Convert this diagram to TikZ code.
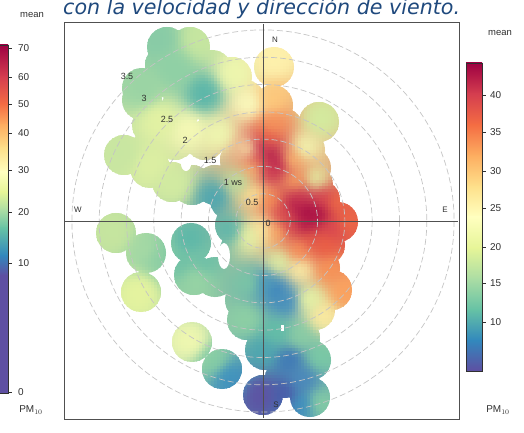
\documentclass[tikz,border=0pt]{standalone}
\usepackage{fontspec}
\setmainfont{Liberation Sans}
\newfontfamily\titlefont{DejaVu Sans}
\definecolor{sA}{HTML}{9E0142}
\definecolor{sB}{HTML}{D53E4F}
\definecolor{sC}{HTML}{F46D43}
\definecolor{sD}{HTML}{FDAE61}
\definecolor{sE}{HTML}{FEE08B}
\definecolor{sF}{HTML}{FFFFBF}
\definecolor{sG}{HTML}{E6F598}
\definecolor{sH}{HTML}{ABDDA4}
\definecolor{sI}{HTML}{66C2A5}
\definecolor{sJ}{HTML}{3288BD}
\definecolor{sK}{HTML}{5E4FA2}
\definecolor{titleblue}{HTML}{1F497D}
\definecolor{gridc}{HTML}{C4C4C4}
\definecolor{axisc}{HTML}{505050}
\definecolor{labc}{HTML}{303030}
\tikzset{
  gridring/.style={gridc, line width=0.7pt, dash pattern=on 6pt off 3pt},
  axisline/.style={axisc, line width=0.9pt},
  framebox/.style={draw=axisc, line width=1pt},
  barbox/.style={draw=labc, line width=0.5pt},
  ticklab/.style={font=\fontsize{10}{10}\selectfont, text=labc, anchor=west, inner sep=0},
  ringlab/.style={font=\fontsize{9}{9}\selectfont, text=labc, inner sep=0},
  compass/.style={font=\fontsize{8}{8}\selectfont, text=labc, inner sep=0},
  holec/.style={fill=white, draw=none}
}
% ---- raster of the smoothed field (inverse distance weighting) ----
\newcount\qx \newcount\qy \newcount\qd \newcount\qw
\newcount\qW \newcount\qR \newcount\qG \newcount\qB
\def\qacc#1#2#3#4#5{%
  \qd=\numexpr((\qx-#1)*(\qx-#1)+(\qy-#2)*(\qy-#2))/16+9\relax
  \qw=\numexpr 10000000/(\qd*\qd)\relax
  \advance\qW\qw
  \advance\qR\numexpr\qw*#3\relax
  \advance\qG\numexpr\qw*#4\relax
  \advance\qB\numexpr\qw*#5\relax}
\def\qspots{%
\qacc{160}{40}{136}{203}{166}\qacc{200}{40}{198}{230}{160}\qacc{145}{90}{154}{212}{164}%
\qacc{175}{70}{143}{208}{165}\qacc{205}{95}{88}{181}{169}\qacc{235}{75}{238}{247}{174}%
\qacc{250}{105}{250}{251}{190}\qacc{160}{120}{227}{242}{163}\qacc{190}{130}{245}{249}{181}%
\qacc{220}{135}{239}{247}{176}\qacc{125}{155}{200}{230}{161}\qacc{150}{165}{220}{239}{162}%
\qacc{175}{185}{210}{235}{161}\qacc{215}{198}{77}{166}{176}\qacc{240}{182}{184}{225}{162}%
\qacc{250}{150}{251}{246}{179}\qacc{255}{195}{254}{232}{154}\qacc{274}{60}{254}{241}{172}%
\qacc{272}{100}{253}{200}{122}\qacc{273}{125}{247}{149}{90}\qacc{270}{157}{168}{14}{72}%
\qacc{262}{148}{190}{30}{76}\qacc{278}{165}{185}{27}{75}\qacc{270}{172}{205}{50}{78}%
\qacc{258}{160}{225}{82}{74}\qacc{268}{138}{236}{101}{70}%
\qacc{292}{160}{253}{186}{108}\qacc{254}{170}{253}{200}{120}\qacc{320}{120}{211}{235}{159}%
\qacc{305}{148}{241}{248}{178}\qacc{316}{180}{228}{243}{164}\qacc{296}{182}{248}{160}{94}%
\qacc{307}{213}{158}{1}{66}\qacc{296}{207}{176}{21}{74}\qacc{318}{214}{162}{5}{68}%
\qacc{307}{225}{174}{18}{72}\qacc{300}{198}{203}{52}{79}\qacc{322}{200}{216}{68}{78}%
\qacc{332}{228}{218}{71}{80}\qacc{290}{226}{214}{67}{78}\qacc{312}{240}{228}{88}{71}%
\qacc{284}{214}{220}{74}{76}\qacc{337}{204}{239}{107}{70}%
\qacc{347}{222}{238}{104}{70}\qacc{270}{200}{246}{138}{80}\qacc{190}{240}{93}{183}{169}%
\qacc{197}{280}{152}{212}{164}\qacc{231}{230}{90}{180}{171}\qacc{250}{237}{232}{244}{166}%
\qacc{263}{230}{254}{239}{165}\qacc{278}{232}{251}{174}{99}\qacc{300}{250}{249}{143}{85}%
\qacc{325}{245}{236}{94}{66}\qacc{280}{263}{225}{242}{165}\qacc{300}{270}{253}{240}{168}%
\qacc{330}{270}{247}{146}{86}\qacc{345}{292}{251}{161}{94}\qacc{277}{290}{55}{130}{190}%
\qacc{266}{283}{70}{150}{188}\qacc{287}{302}{65}{140}{190}%
\qacc{250}{283}{124}{199}{165}\qacc{310}{300}{233}{245}{166}\qacc{323}{317}{254}{235}{160}%
\qacc{247}{320}{142}{208}{164}\qacc{277}{333}{98}{190}{167}\qacc{300}{337}{138}{206}{164}%
\qacc{265}{352}{78}{166}{175}\qacc{290}{360}{61}{118}{183}\qacc{303}{380}{74}{136}{187}%
\qacc{320}{357}{122}{202}{165}\qacc{262}{395}{93}{82}{163}\qacc{285}{395}{72}{89}{168}%
\qacc{320}{403}{134}{205}{164}\qacc{302}{405}{61}{143}{191}\qacc{205}{262}{111}{192}{167}%
\qacc{180}{262}{111}{193}{166}\qacc{116}{233}{198}{229}{159}\qacc{146}{250}{165}{217}{164}%
\qacc{160}{258}{141}{207}{164}\qacc{141}{292}{230}{244}{159}\qacc{192}{342}{241}{248}{176}%
\qacc{214}{360}{134}{205}{164}\qacc{231}{378}{63}{146}{190}}
\def\qcell{%
  \qW=1 \qR=0 \qG=0 \qB=0
  \qspots
  \qR=\numexpr\qR/\qW\relax
  \qG=\numexpr\qG/\qW\relax
  \qB=\numexpr\qB/\qW\relax
  \definecolor{qc}{RGB}{\the\qR,\the\qG,\the\qB}%
  \pgfsetfillcolor{qc}%
  \pgfpathrectangle{\pgfqpoint{\dimexpr\qx bp-1.6bp\relax}{\dimexpr-\qy bp-1.6bp\relax}}{\pgfqpoint{3.3bp}{3.3bp}}%
  \pgfusepath{fill}}
\def\qcols{\qcell\advance\qx by 3 \ifnum\qx<361 \expandafter\qcols\fi}
\def\qrows{\qx=96 \qcols\advance\qy by 3 \ifnum\qy<420 \expandafter\qrows\fi}
\begin{document}
\begin{tikzpicture}[x=1bp,y=-1bp]
\useasboundingbox (0,0) rectangle (524,433);
% title
\node[anchor=base west, font=\titlefont\itshape\fontsize{20.7}{20.7}\selectfont, text=titleblue, inner sep=0] (title) at (63,15) {con la velocidad y dirección de viento.};

% heat map
\begin{scope}
\clip foreach \x/\y in {167/47,190/47,165/65,212/70,142/88,142/100,168/78,198/80,232/77,245/100,
 152/125,180/110,215/108,124/155,150/150,175/140,205/140,235/135,240/160,
 150/168,172/182,192/185,215/185,240/185,230/200,255/200,250/215,280/220,
 274/67,273/105,260/120,283/128,265/150,285/150,265/175,290/175,270/200,290/200,
 319/122,305/150,311/168,313/185,320/200,338/222,320/222,325/245,320/268,332/290,315/310,300/230,300/255,300/280,
 191/243,194/275,215/277,235/225,240/250,260/240,280/240,245/280,265/270,285/265,245/300,247/320,265/300,285/300,300/310,270/325,295/330,265/350,290/350,311/360,285/378,310/397,263/395,300/338,
 116/233,146/253,141/292,192/342,222/369} {(\x,\y) circle (20)};
\qy=26 \qrows
\end{scope}
% holes
\fill[holec] (224,256) ellipse (6 and 13);
\fill[holec] (186,164) ellipse (5 and 7);
\fill[holec] (281,325) rectangle (284,331);

% grid rings
\foreach \k in {1,...,7} {\draw[gridring] (263,221) circle ({27.3*\k});}
% frame and axes
\draw[framebox] (64,23) rectangle (459,419);
\coordinate (ctr) at (263,221);
\coordinate (ntop) at (263,24);
\coordinate (sbot) at (263,418);
\coordinate (wend) at (65,221);
\coordinate (eend) at (458,221);
\draw[axisline] (ntop) -- (sbot);
\draw[axisline] (wend) -- (eend);
% compass labels
\node[compass] (lN) at (275,40) {N};
\node[compass] (lE) at (445,210) {E};
\node[compass] (lW) at (78,210) {W};
\node[compass] (lS) at (276,405) {S};
% ring labels
\node[ringlab] (r0) at (268,223) {0};
\node[ringlab] (r05) at (252,202) {0.5};
\node[ringlab] (r1) at (233,182) {1 ws};
\node[ringlab] (r15) at (210,160) {1.5};
\node[ringlab] (r2) at (185,140) {2};
\node[ringlab] (r25) at (167,119) {2.5};
\node[ringlab] (r3) at (144,98) {3};
\node[ringlab] (r35) at (127,76) {3.5};

% left colour bar
\shade[top color=sA,bottom color=sB] (-5,45) rectangle (8,77.5);
\shade[top color=sB,bottom color=sC] (-5,77) rectangle (8,104.5);
\shade[top color=sC,bottom color=sD] (-5,104) rectangle (8,125.5);
\shade[top color=sD,bottom color=sE] (-5,125) rectangle (8,148.5);
\shade[top color=sE,bottom color=sF] (-5,148) rectangle (8,172.5);
\shade[top color=sF,bottom color=sG] (-5,172) rectangle (8,192.5);
\shade[top color=sG,bottom color=sH] (-5,192) rectangle (8,210.5);
\shade[top color=sH,bottom color=sI] (-5,210) rectangle (8,228.5);
\shade[top color=sI,bottom color=sJ] (-5,228) rectangle (8,255.5);
\shade[top color=sJ,bottom color=sK] (-5,255) rectangle (8,275.5);
\fill[sK] (-5,275) rectangle (8,393);
\draw[barbox] (-5,45) rectangle (8,393);
\foreach \v/\yy in {70/48,60/77,50/104,40/133,30/170,20/212,10/263,0/392} {
  \draw[labc, line width=0.5pt] (8,\yy) -- (12,\yy);
  \node[ticklab] at (18,\yy) {\v};
}
\node[font=\fontsize{9.5}{9.5}\selectfont, text=labc] (lmean) at (32,15) {mean};
\node[font=\fontsize{10}{10}\selectfont, text=labc] (lpm) at (31,410) {PM$_{10}$};

% right colour bar
\shade[top color=sA,bottom color=sB] (466,63) rectangle (482,94.3);
\shade[top color=sB,bottom color=sC] (466,93.8) rectangle (482,125.1);
\shade[top color=sC,bottom color=sD] (466,124.6) rectangle (482,155.9);
\shade[top color=sD,bottom color=sE] (466,155.4) rectangle (482,186.7);
\shade[top color=sE,bottom color=sF] (466,186.2) rectangle (482,217.5);
\shade[top color=sF,bottom color=sG] (466,217) rectangle (482,248.3);
\shade[top color=sG,bottom color=sH] (466,247.8) rectangle (482,279.1);
\shade[top color=sH,bottom color=sI] (466,278.6) rectangle (482,309.9);
\shade[top color=sI,bottom color=sJ] (466,309.4) rectangle (482,340.7);
\shade[top color=sJ,bottom color=sK] (466,340.2) rectangle (482,371);
\draw[barbox] (466,63) rectangle (482,371);
\foreach \v/\yy in {40/95,35/132,30/171,25/208,20/247,15/283,10/322} {
  \draw[labc, line width=0.5pt] (482,\yy) -- (486,\yy);
  \node[ticklab] at (490,\yy) {\v};
}
\node[font=\fontsize{9.5}{9.5}\selectfont, text=labc] (rmean) at (500,33) {mean};
\node[font=\fontsize{10}{10}\selectfont, text=labc] (rpm) at (498,410) {PM$_{10}$};
\end{tikzpicture}
\end{document}
